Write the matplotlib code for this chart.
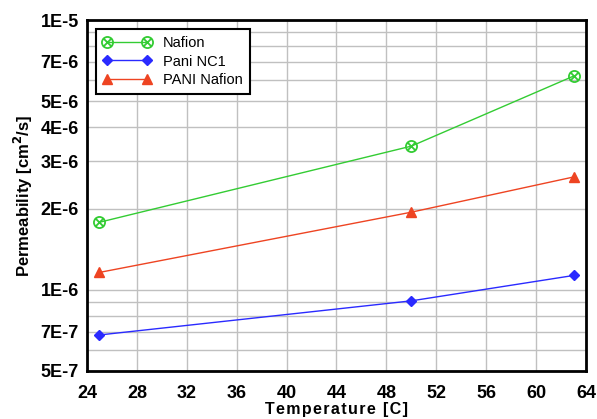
import matplotlib
matplotlib.use('Agg')
import matplotlib.pyplot as plt
from matplotlib.path import Path
from matplotlib.ticker import FixedLocator, FixedFormatter, NullFormatter

plt.rcParams['font.family'] = ['Liberation Sans', 'DejaVu Sans']

temps = [25, 50, 63]
nafion = [1.78e-6, 3.41e-6, 6.2e-6]
pani_nc1 = [6.8e-7, 9.1e-7, 1.13e-6]
pani_nafion = [1.16e-6, 1.94e-6, 2.62e-6]

x_ticks = list(range(24, 65, 4))
y_major = [5e-7, 7e-7, 1e-6, 2e-6, 3e-6, 4e-6, 5e-6, 7e-6, 1e-5]
y_labels = ['5E-7', '7E-7', '1E-6', '2E-6', '3E-6', '4E-6', '5E-6', '7E-6', '1E-5']
y_minor = [6e-7, 8e-7, 9e-7, 6e-6, 8e-6, 9e-6]

# circle with a cross inside
d = 0.7071
cross = Path([(-d, -d), (d, d), (-d, d), (d, -d)],
             [Path.MOVETO, Path.LINETO, Path.MOVETO, Path.LINETO])
circ_x = Path.make_compound_path(Path.unit_circle(), cross)

fig = plt.figure(figsize=(5.97, 4.19), dpi=100)
ax = fig.add_axes([0.1457, 0.1146, 0.8359, 0.8374])

ax.plot(temps, nafion, '-', color='#33cc33', lw=1, marker=circ_x,
        ms=8, mfc='none', mew=1.3, label='Nafion')
ax.plot(temps, pani_nc1, '-', color='#2a2aff', lw=1, marker='D',
        ms=5.5, label='Pani NC1')
ax.plot(temps, pani_nafion, '-', color='#ee4422', lw=1, marker='^',
        ms=7, label='PANI Nafion')

ax.set_yscale('log')
ax.set_xlim(24, 64)
ax.set_ylim(5e-7, 1e-5)
ax.xaxis.set_major_locator(FixedLocator(x_ticks))
ax.yaxis.set_major_locator(FixedLocator(y_major))
ax.yaxis.set_major_formatter(FixedFormatter(y_labels))
ax.yaxis.set_minor_locator(FixedLocator(y_minor))
ax.yaxis.set_minor_formatter(NullFormatter())

ax.grid(True, which='both', color='#c0c0c0', lw=1)
ax.set_axisbelow(True)
ax.tick_params(which='both', length=0, labelsize=13)
ax.tick_params(axis='y', pad=6)
ax.tick_params(axis='x', pad=10)
for lab in ax.get_xticklabels() + ax.get_yticklabels():
    lab.set_fontweight('bold')
for s in ax.spines.values():
    s.set_linewidth(2)

ax.set_xlabel('\u200a'.join('Temperature [C]'), fontsize=11.5, fontweight='bold', labelpad=0)
ax.set_ylabel('Permeability [cm$^\\mathbf{2}$/s]', fontsize=12, fontweight='bold', labelpad=4)

leg = ax.legend(loc='upper left', numpoints=2, fancybox=False, framealpha=1,
                edgecolor='black', fontsize=10.5, borderaxespad=0.6,
                handlelength=3.3, labelspacing=0.3, borderpad=0.5)
leg.get_frame().set_linewidth(1.5)

fig.savefig('out.png', dpi=100)
